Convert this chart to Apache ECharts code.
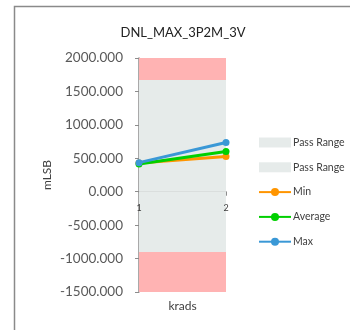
<!DOCTYPE html>
<html><head><meta charset="utf-8">
<script src="https://cdn.jsdelivr.net/npm/echarts@6/dist/echarts.min.js"></script>
<style>html,body{margin:0;padding:0;background:#fff}#c{width:350px;height:330px}</style>
</head><body><div id="c"></div>
<script>
const categories = ['1', '2'];
const minValues = [430, 525];
const avgValues = [415, 600];
const maxValues = [435, 735];
const passUpper = 1670;
const passLower = -900;
const yMin = -1500, yMax = 2000, yStep = 500;

const chart = echarts.init(document.getElementById('c'), null, {renderer: 'canvas'});
const font = 'Lato, "Liberation Sans", sans-serif';
const gray = '#e6ebea', pink = '#ffb3b3';
const gridTop = 58, gridBottom = 38, H = 330;
const plotH = H - gridTop - gridBottom;
const zeroOffset = -plotH * (0 - yMin) / (yMax - yMin);
chart.setOption({
  animation: false,
  title: {text: 'DNL_MAX_3P2M_3V', left: 178, top: 21, textAlign: 'center',
    textStyle: {fontFamily: font, fontSize: 13, fontWeight: 'normal', color: '#222'}},
  graphic: [{type: 'rect', shape: {x: 14.5, y: 6.5, width: 400, height: 400},
    style: {fill: null, stroke: '#8a8a8a', lineWidth: 1.5}, z: -10}],
  grid: {left: 139, right: 124, top: gridTop, bottom: gridBottom, outerBoundsMode: 'none', containLabel: false},
  legend: {orient: 'vertical', left: 253, top: 132, itemGap: 13.8, itemWidth: 32, itemHeight: 10,
    textStyle: {fontFamily: font, fontSize: 10.5, color: '#404040', padding: [0,0,0,-3]},
    data: [{name: 'Pass Range', icon: 'rect'}, {name: 'Pass Range ', icon: 'rect'}, 'Min', 'Average', 'Max']},
  xAxis: [{type: 'category', data: categories, boundaryGap: false,
    name: 'krads', nameLocation: 'middle', nameGap: 8,
    nameTextStyle: {fontFamily: font, fontSize: 12, color: '#404040'},
    axisLine: {onZero: true, lineStyle: {color: '#8c8c8c', width: 1.5}},
    axisTick: {show: true, length: 4, lineStyle: {color: '#8c8c8c'}},
    axisLabel: {show: false}},
   {type: 'category', data: categories, boundaryGap: false, position: 'bottom', offset: zeroOffset, z: 20,
    axisLine: {show: false, onZero: false}, axisTick: {show: false},
    axisLabel: {fontFamily: font, fontSize: 9, color: '#404040', margin: 12}}],
  yAxis: {type: 'value', min: yMin, max: yMax, interval: yStep,
    name: 'mLSB', nameLocation: 'middle', nameGap: 86, nameRotate: 90,
    nameTextStyle: {fontFamily: font, fontSize: 12, color: '#404040'},
    axisLine: {show: true, lineStyle: {color: '#8c8c8c', width: 1.5}},
    axisTick: {show: true, length: 4, lineStyle: {color: '#8c8c8c'}},
    splitLine: {show: false},
    axisLabel: {fontFamily: font, fontSize: 13.5, color: '#595959', margin: 16,
      formatter: v => v.toFixed(3)}},
  series: [
    {name: 'Pass Range', type: 'line', data: [], color: gray, itemStyle: {color: gray},
      markArea: {silent: true, itemStyle: {color: gray, opacity: 1},
        data: [[{yAxis: 0}, {yAxis: passUpper}], [{yAxis: passUpper}, {yAxis: yMax, itemStyle: {color: pink}}]]}},
    {name: 'Pass Range ', type: 'line', data: [], color: gray, itemStyle: {color: gray},
      markArea: {silent: true, itemStyle: {color: gray, opacity: 1},
        data: [[{yAxis: passLower}, {yAxis: 0}], [{yAxis: yMin, itemStyle: {color: pink}}, {yAxis: passLower}]]}},
    {name: 'Min', type: 'line', data: minValues, color: '#ff9500', symbol: 'circle', symbolSize: 7,
      lineStyle: {width: 3}, z: 3},
    {name: 'Average', type: 'line', data: avgValues, color: '#00d000', symbol: 'circle', symbolSize: 7,
      lineStyle: {width: 3}, z: 4},
    {name: 'Max', type: 'line', data: maxValues, color: '#3a98d6', symbol: 'circle', symbolSize: 7,
      lineStyle: {width: 3}, z: 5}
  ]
});
</script></body></html>
